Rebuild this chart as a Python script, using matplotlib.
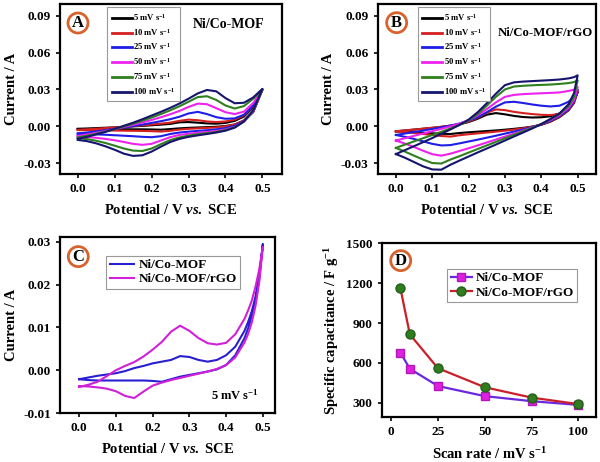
import matplotlib
matplotlib.use("Agg")
import matplotlib.pyplot as plt

plt.rcParams['font.family'] = ['Liberation Serif', 'DejaVu Serif']
plt.rcParams['font.weight'] = 'bold'
plt.rcParams['mathtext.fontset'] = 'custom'
plt.rcParams['mathtext.rm'] = 'Liberation Serif:bold'
plt.rcParams['mathtext.bf'] = 'Liberation Serif:bold'
plt.rcParams['mathtext.it'] = 'Liberation Serif:bold:italic'
plt.rcParams['axes.linewidth'] = 1.6

# ---------------- data ----------------
rates = ['5', '10', '25', '50', '75', '100']
rate_colors = ['#000000', '#d62020', '#1e1ee6', '#ee22ee', '#2f7f1f', '#15156e']

# panel A  (Ni/Co-MOF), potential grid and forward / reverse currents
v_a = [0, .025, .05, .075, .1, .125, .15, .175, .2, .225, .25, .275, .3, .325, .35, .375, .4, .425, .45, .475, .5]
a_fwd = [
    [-.0020, -.0017, -.0014, -.0011, -.0008, -.0004, .0000, .0004, .0009, .0014, .0020, .0033, .0035, .0030, .0024, .0022, .0028, .0045, .0080, .0155, .0300],
    [-.0028, -.0024, -.0019, -.0014, -.0009, -.0004, .0002, .0008, .0015, .0022, .0030, .0045, .0055, .0050, .0040, .0035, .0040, .0055, .0090, .0165, .0300],
    [-.0058, -.0050, -.0041, -.0031, -.0020, -.0009, .0003, .0015, .0028, .0042, .0058, .0078, .0105, .0118, .0100, .0075, .0062, .0065, .0095, .0170, .0300],
    [-.0078, -.0066, -.0053, -.0038, -.0022, -.0005, .0013, .0032, .0052, .0074, .0098, .0125, .0158, .0185, .0180, .0148, .0115, .0100, .0120, .0190, .0300],
    [-.0090, -.0076, -.0060, -.0042, -.0022, .0000, .0022, .0046, .0072, .0100, .0130, .0163, .0200, .0238, .0245, .0215, .0170, .0145, .0165, .0225, .0300],
    [-.0100, -.0085, -.0065, -.0045, -.0020, .0005, .0030, .0058, .0088, .0118, .0150, .0185, .0225, .0268, .0296, .0285, .0230, .0188, .0192, .0235, .0305],
]
a_rev = [
    [-.0021, -.0022, -.0022, -.0023, -.0023, -.0023, -.0024, -.0024, -.0025, -.0027, -.0022, -.0016, -.0012, -.0009, -.0006, -.0003, .0003, .0015, .0045, .0115, .0300],
    [-.0030, -.0031, -.0032, -.0033, -.0034, -.0035, -.0036, -.0037, -.0039, -.0042, -.0036, -.0026, -.0020, -.0016, -.0012, -.0008, .0000, .0015, .0050, .0120, .0300],
    [-.0060, -.0062, -.0065, -.0068, -.0072, -.0076, -.0080, -.0085, -.0088, -.0080, -.0062, -.0050, -.0043, -.0037, -.0031, -.0024, -.0014, .0005, .0045, .0120, .0300],
    [-.0080, -.0085, -.0093, -.0102, -.0113, -.0127, -.0142, -.0150, -.0142, -.0115, -.0088, -.0070, -.0060, -.0052, -.0045, -.0037, -.0025, -.0005, .0040, .0120, .0300],
    [-.0095, -.0103, -.0117, -.0135, -.0157, -.0180, -.0197, -.0200, -.0180, -.0145, -.0112, -.0090, -.0075, -.0064, -.0055, -.0045, -.0030, -.0008, .0040, .0125, .0300],
    [-.0110, -.0120, -.0138, -.0162, -.0190, -.0222, -.0240, -.0235, -.0205, -.0165, -.0128, -.0102, -.0085, -.0073, -.0062, -.0050, -.0035, -.0010, .0040, .0130, .0305],
]

# panel B  (Ni/Co-MOF/rGO)
v_b = [0, .025, .05, .075, .1, .125, .15, .175, .2, .225, .25, .275, .3, .325, .35, .375, .4, .425, .45, .475, .49, .5]
b_fwd = [
    [-.0040, -.0033, -.0026, -.0019, -.0012, -.0004, .0005, .0017, .0035, .0062, .0095, .0108, .0098, .0085, .0076, .0072, .0074, .0082, .0105, .0160, .0215, .0280],
    [-.0040, -.0033, -.0026, -.0019, -.0011, -.0003, .0006, .0018, .0038, .0070, .0110, .0138, .0132, .0118, .0108, .0100, .0094, .0092, .0100, .0150, .0210, .0290],
    [-.0070, -.0058, -.0046, -.0034, -.0021, -.0008, .0007, .0023, .0045, .0075, .0115, .0160, .0195, .0200, .0190, .0178, .0168, .0162, .0168, .0200, .0240, .0300],
    [-.0115, -.0096, -.0077, -.0058, -.0039, -.0020, .0000, .0022, .0050, .0090, .0140, .0195, .0240, .0256, .0262, .0266, .0269, .0272, .0276, .0288, .0298, .0320],
    [-.0175, -.0148, -.0122, -.0096, -.0070, -.0044, -.0017, .0012, .0048, .0100, .0168, .0240, .0300, .0324, .0330, .0334, .0337, .0340, .0345, .0352, .0360, .0375],
    [-.0225, -.0193, -.0161, -.0128, -.0095, -.0060, -.0025, .0012, .0055, .0115, .0188, .0265, .0335, .0358, .0364, .0368, .0372, .0376, .0381, .0390, .0400, .0415],
]
b_rev = [
    [-.0040, -.0044, -.0048, -.0052, -.0056, -.0060, -.0062, -.0054, -.0048, -.0043, -.0038, -.0033, -.0027, -.0020, -.0012, -.0002, .0013, .0038, .0075, .0130, .0190, .0280],
    [-.0040, -.0046, -.0054, -.0062, -.0070, -.0078, -.0083, -.0072, -.0064, -.0057, -.0050, -.0043, -.0035, -.0026, -.0016, -.0003, .0014, .0040, .0080, .0135, .0195, .0290],
    [-.0070, -.0085, -.0102, -.0122, -.0142, -.0155, -.0152, -.0138, -.0123, -.0108, -.0092, -.0076, -.0059, -.0042, -.0025, -.0006, .0016, .0045, .0085, .0140, .0205, .0300],
    [-.0115, -.0140, -.0168, -.0198, -.0226, -.0238, -.0222, -.0200, -.0178, -.0155, -.0131, -.0107, -.0083, -.0059, -.0035, -.0010, .0018, .0052, .0092, .0150, .0215, .0320],
    [-.0175, -.0205, -.0238, -.0270, -.0298, -.0302, -.0270, -.0242, -.0213, -.0184, -.0155, -.0126, -.0097, -.0068, -.0040, -.0011, .0020, .0058, .0100, .0165, .0240, .0375],
    [-.0225, -.0255, -.0290, -.0325, -.0350, -.0352, -.0312, -.0278, -.0245, -.0212, -.0180, -.0148, -.0115, -.0082, -.0050, -.0017, .0018, .0060, .0105, .0180, .0270, .0415],
]

# panel C  (5 mV/s comparison)
v_c = [0, .025, .05, .075, .1, .125, .15, .175, .2, .225, .25, .275, .3, .325, .35, .375, .4, .425, .45, .46, .47, .48, .49, .5]
c_labels = ['Ni/Co-MOF', 'Ni/Co-MOF/rGO']
c_colors = ['#2a1fd0', '#d020d8']
c_fwd = [
    [-.0021, -.0017, -.0013, -.0010, -.0007, -.0002, .0005, .0010, .0016, .0020, .0024, .0033, .0031, .0024, .0020, .0024, .0035, .0055, .0092, .0113, .0138, .0172, .0222, .0295],
    [-.0039, -.0034, -.0027, -.0014, .0000, .0010, .0019, .0032, .0048, .0066, .0090, .0104, .0092, .0075, .0063, .0060, .0064, .0084, .0120, .0140, .0163, .0195, .0235, .0288],
]
c_rev = [
    [-.0021, -.0023, -.0024, -.0024, -.0024, -.0024, -.0024, -.0024, -.0025, -.0027, -.0021, -.0015, -.0011, -.0007, -.0003, .0002, .0012, .0035, .0075, .0098, .0126, .0162, .0212, .0295],
    [-.0037, -.0038, -.0040, -.0043, -.0049, -.0060, -.0065, -.0050, -.0036, -.0029, -.0023, -.0018, -.0013, -.0008, -.0003, .0003, .0012, .0030, .0065, .0085, .0112, .0150, .0205, .0288],
]

# panel D  (specific capacitance vs scan rate)
scan_rate = [5, 10, 25, 50, 75, 100]
cap_mof = [677, 556, 426, 350, 312, 284]
cap_rgo = [1161, 815, 560, 417, 339, 290]

# ---------------- figure ----------------
fig = plt.figure(figsize=(6.0, 4.62), dpi=100)
axA = fig.add_axes([0.100, 0.6234, 0.370, 0.368])
axB = fig.add_axes([0.6295, 0.6234, 0.3633, 0.368])
axC = fig.add_axes([0.100, 0.106, 0.3583, 0.3817])
axD = fig.add_axes([0.6362, 0.098, 0.3577, 0.3754])

ring = '#d8622e'


def badge(ax, letter, x, y):
    ax.text(x, y, letter, transform=ax.transAxes, ha='center', va='center',
            fontsize=12, fontweight='bold', zorder=10,
            bbox=dict(boxstyle='circle,pad=0.12', fc='white', ec=ring, lw=2))


def style(ax):
    ax.tick_params(direction='out', length=3, width=1.2, labelsize=9.5)
    for t in ax.get_xticklabels() + ax.get_yticklabels():
        t.set_fontweight('bold')


xlab = r'Potential / V $\mathit{vs.}$ SCE'

for ax, v, fwd, rev, xl, lx in [(axA, v_a, a_fwd, a_rev, (-0.048, 0.553), 0.21),
                                 (axB, v_b, b_fwd, b_rev, (-0.050, 0.5496), 0.18)]:
    for i in range(len(rates)):
        ax.plot(v + v[::-1], fwd[i] + rev[i][::-1], color=rate_colors[i], lw=1.5,
                label=r'%s mV s$^{-1}$' % rates[i])
    ax.set_xlim(*xl)
    ax.set_ylim(-0.0387, 0.0995)
    ax.set_xticks([0, 0.1, 0.2, 0.3, 0.4, 0.5])
    ax.set_yticks([-0.03, 0.0, 0.03, 0.06, 0.09])
    ax.xaxis.set_major_formatter(matplotlib.ticker.FormatStrFormatter('%.1f'))
    ax.yaxis.set_major_formatter(matplotlib.ticker.FormatStrFormatter('%.2f'))
    ax.set_xlabel(xlab, fontsize=10.5, fontweight='bold', labelpad=6)
    ax.set_ylabel('Current / A', fontsize=10.5, fontweight='bold', labelpad=4)
    leg = ax.legend(loc='upper left', bbox_to_anchor=(lx, 0.985), fontsize=6.2,
                    handlelength=2.3, handletextpad=0.2, labelspacing=0.45,
                    borderpad=0.5, borderaxespad=0.1, fancybox=False,
                    edgecolor='#999999', framealpha=1)
    leg.get_frame().set_linewidth(0.8)
    for line in leg.get_lines():
        line.set_linewidth(2)
    style(ax)

axA.text(0.76, 0.88, 'Ni/Co-MOF', transform=axA.transAxes, ha='center', va='center',
         fontsize=10, fontweight='bold')
axB.text(0.77, 0.83, 'Ni/Co-MOF/rGO', transform=axB.transAxes, ha='center', va='center',
         fontsize=9.2, fontweight='bold')
badge(axA, 'A', 0.081, 0.888)
badge(axB, 'B', 0.087, 0.89)

# panel C
for i in range(2):
    axC.plot(v_c + v_c[::-1], c_fwd[i] + c_rev[i][::-1], color=c_colors[i], lw=1.5,
             label=c_labels[i])
axC.set_xlim(-0.052, 0.533)
axC.set_ylim(-0.01, 0.0312)
axC.set_xticks([0, 0.1, 0.2, 0.3, 0.4, 0.5])
axC.set_yticks([-0.01, 0.0, 0.01, 0.02, 0.03])
axC.xaxis.set_major_formatter(matplotlib.ticker.FormatStrFormatter('%.1f'))
axC.yaxis.set_major_formatter(matplotlib.ticker.FormatStrFormatter('%.2f'))
axC.set_xlabel(xlab, fontsize=10.5, fontweight='bold', labelpad=6)
axC.set_ylabel('Current / A', fontsize=10.5, fontweight='bold', labelpad=4)
leg = axC.legend(loc='upper left', bbox_to_anchor=(0.21, 0.90), fontsize=9.5,
                 handlelength=1.8, handletextpad=0.4, labelspacing=0.15,
                 borderpad=0.25, borderaxespad=0.1, fancybox=False,
                 edgecolor='#999999', framealpha=1)
leg.get_frame().set_linewidth(0.8)
axC.text(0.814, 0.10, r'5 mV s$^{-1}$', transform=axC.transAxes, ha='center', va='center',
         fontsize=9, fontweight='bold')
badge(axC, 'C', 0.085, 0.887)
style(axC)

# panel D
axD.plot(scan_rate, cap_mof, color='#6a28e0', lw=1.6, marker='s', ms=6,
         mfc='#e020e0', mec='#b018b8', label='Ni/Co-MOF')
axD.plot(scan_rate, cap_rgo, color='#cc1f2a', lw=1.6, marker='o', ms=6.5,
         mfc='#2f7d1e', mec='#24601a', label='Ni/Co-MOF/rGO')
axD.set_xlim(-5, 109.6)
axD.set_ylim(195, 1500)
axD.set_xticks([0, 25, 50, 75, 100])
axD.set_yticks([300, 600, 900, 1200, 1500])
axD.set_xlabel(r'Scan rate / mV s$^{-1}$', fontsize=10.5, fontweight='bold', labelpad=6)
axD.set_ylabel(r'Specific capacitance / F g$^{-1}$', fontsize=10.5, fontweight='bold', labelpad=4)
leg = axD.legend(loc='upper left', bbox_to_anchor=(0.30, 0.86), fontsize=9.5,
                 handlelength=1.6, handletextpad=0.3, labelspacing=0.15,
                 borderpad=0.25, borderaxespad=0.1, fancybox=False,
                 edgecolor='#999999', framealpha=1)
leg.get_frame().set_linewidth(0.8)
badge(axD, 'D', 0.0885, 0.90)
style(axD)

fig.savefig('out.png', dpi=100)
